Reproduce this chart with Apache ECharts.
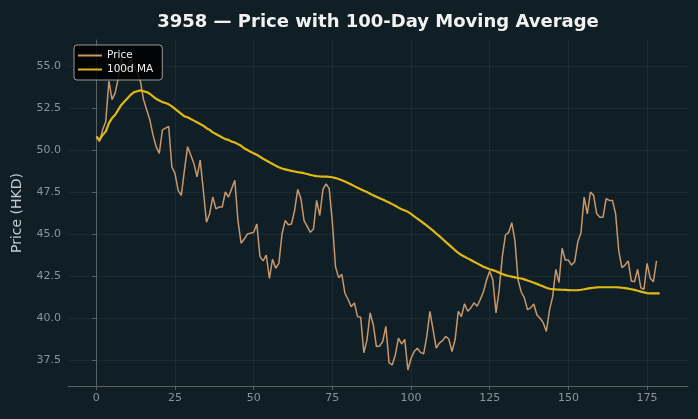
<!DOCTYPE html>
<html>
<head>
<meta charset="utf-8">
<script src="https://cdn.jsdelivr.net/npm/echarts@6/dist/echarts.min.js"></script>
<style>
  html, body { margin: 0; padding: 0; background: #101f26; }
  #chart { width: 698px; height: 419px; }
</style>
</head>
<body>
<div id="chart"></div>
<script>
// daily close (index 0..179)
const price = [
  50.8, 50.5, 51.2, 51.7, 54.1, 53.0, 53.4, 54.3, 55.5, 54.7,
  55.0, 55.4, 55.0, 54.6, 54.1, 53.0, 52.4, 51.8, 50.9, 50.2,
  49.8, 51.2, 51.3, 51.4, 49.0, 48.6, 47.6, 47.3, 48.8, 50.2,
  49.7, 49.2, 48.4, 49.4, 47.6, 45.7, 46.2, 47.2, 46.5, 46.6,
  46.6, 47.5, 47.2, 47.7, 48.2, 45.8, 44.45, 44.7, 45.0, 45.05,
  45.1, 45.6, 43.65, 43.4, 43.75, 42.36, 43.5, 42.96, 43.25, 45.0,
  45.8, 45.55, 45.6, 46.4, 47.65, 47.1, 45.8, 45.45, 45.1, 45.3,
  47.0, 46.1, 47.65, 47.98, 47.7, 45.7, 43.05, 42.4, 42.6, 41.47,
  41.1, 40.67, 40.9, 40.08, 40.04, 37.93, 38.7, 40.3, 39.6, 38.3,
  38.33, 38.6, 39.5, 37.34, 37.2, 37.8, 38.8, 38.45, 38.73, 36.9,
  37.6, 38.0, 38.2, 37.95, 37.86, 38.9, 40.4, 39.3, 38.2, 38.5,
  38.65, 38.9, 38.75, 38.0, 38.7, 40.4, 40.08, 40.85, 40.4, 40.6,
  40.9, 40.7, 41.1, 41.56, 42.26, 42.8, 42.26, 40.3, 41.67, 43.65,
  44.94, 45.08, 45.67, 44.64, 42.26, 41.56, 41.2, 40.5, 40.6, 40.83,
  40.18, 39.98, 39.72, 39.2, 40.48, 41.27, 42.9, 42.1, 44.15, 43.45,
  43.45, 43.15, 43.35, 44.54, 45.08, 47.2, 46.2, 47.5, 47.3, 46.2,
  46.0, 46.0, 47.1, 47.0, 47.0, 46.2, 44.0, 43.0, 43.15, 43.4,
  42.2, 42.16, 42.9, 41.8, 41.7, 43.25, 42.36, 42.16, 43.4
];

// 100d moving average line
const ma100 = [
  50.8, 50.6, 50.9, 51.1, 51.6, 51.9, 52.1, 52.4, 52.7, 52.9,
  53.1, 53.3, 53.45, 53.5, 53.55, 53.5, 53.45, 53.35, 53.2, 53.05,
  52.95, 52.85, 52.8, 52.72, 52.6, 52.45, 52.3, 52.15, 52.0, 51.95,
  51.85, 51.75, 51.65, 51.55, 51.45, 51.3, 51.2, 51.05, 50.95, 50.85,
  50.75, 50.65, 50.6, 50.5, 50.45, 50.35, 50.25, 50.1, 50.0, 49.9,
  49.8, 49.72, 49.6, 49.48, 49.38, 49.27, 49.17, 49.07, 48.98, 48.9,
  48.85, 48.8, 48.76, 48.72, 48.68, 48.65, 48.62, 48.57, 48.52, 48.48,
  48.45, 48.43, 48.42, 48.41, 48.4, 48.38, 48.33, 48.27, 48.2, 48.12,
  48.03, 47.94, 47.85, 47.76, 47.67, 47.58, 47.5, 47.4, 47.3, 47.22,
  47.13, 47.05, 46.96, 46.88, 46.78, 46.68, 46.57, 46.48, 46.4, 46.32,
  46.2, 46.05, 45.92, 45.78, 45.64, 45.5, 45.35, 45.2, 45.03, 44.87,
  44.7, 44.53, 44.37, 44.2, 44.03, 43.88, 43.75, 43.65, 43.55, 43.45,
  43.35, 43.25, 43.15, 43.05, 42.97, 42.9, 42.85, 42.78, 42.7, 42.62,
  42.55, 42.5, 42.46, 42.42, 42.38, 42.35, 42.3, 42.23, 42.17, 42.1,
  42.03, 41.95, 41.88, 41.8, 41.74, 41.72, 41.7, 41.69, 41.68, 41.67,
  41.66, 41.65, 41.65, 41.66, 41.68, 41.71, 41.75, 41.78, 41.8, 41.82,
  41.83, 41.83, 41.83, 41.83, 41.83, 41.83, 41.82, 41.8, 41.78, 41.75,
  41.71, 41.67, 41.62, 41.57, 41.52, 41.48, 41.46, 41.46, 41.46, 41.46
];

const xTicks = [0, 25, 50, 75, 100, 125, 150, 175];
const yTicks = [37.5, 40, 42.5, 45, 47.5, 50, 52.5, 55];

const chart = echarts.init(document.getElementById("chart"));

const gridCol = "rgba(255,255,255,0.05)";
const tickCol = "#8a9499";

chart.setOption({
  backgroundColor: "#101f26",
  animation: false,
  textStyle: { fontFamily: "DejaVu Sans" },
  title: {
    text: "3958 — Price with 100-Day Moving Average",
    left: 373,
    textAlign: "center",
    top: 8,
    textStyle: { color: "#f2f2f2", fontSize: 18, fontWeight: "bold", fontFamily: "DejaVu Sans" },
  },
  legend: {
    orient: "vertical",
    left: 74,
    top: 45,
    padding: [5, 9, 5, 4],
    itemGap: 3,
    itemWidth: 24,
    itemHeight: 2,
    icon: "rect",
    backgroundColor: "rgba(0,0,0,0.85)",
    borderColor: "#9a9a9a",
    borderWidth: 1,
    borderRadius: 3,
    textStyle: { color: "#f0f0f0", fontSize: 10.5, fontFamily: "DejaVu Sans" },
    data: ["Price", "100d MA"],
  },
  grid: { left: 68, right: 10, top: 40, bottom: 33 },
  xAxis: {
    type: "value",
    min: -9,
    max: 188,
    axisLine: { lineStyle: { color: "#5a6266" } },
    axisTick: { customValues: xTicks, length: 4, lineStyle: { color: "#5a6266" } },
    axisLabel: { customValues: xTicks, color: tickCol, fontSize: 11, margin: 7 },
    splitLine: { show: true, lineStyle: { color: gridCol } },
  },
  yAxis: {
    type: "value",
    min: 35.95,
    max: 56.55,
    name: "Price (HKD)",
    nameLocation: "middle",
    nameGap: 44,
    nameTextStyle: { color: "#c4cacd", fontSize: 14 },
    axisLine: { show: true, lineStyle: { color: "#5a6266" } },
    axisTick: { show: true, customValues: yTicks, length: 4, lineStyle: { color: "#5a6266" } },
    axisLabel: {
      customValues: yTicks,
      color: tickCol,
      fontSize: 11,
      margin: 7,
      formatter: (v) => v.toFixed(1),
    },
    splitLine: { show: true, lineStyle: { color: gridCol } },
  },
  series: [
    {
      name: "Price",
      type: "line",
      data: price.map((v, i) => [i, v]),
      showSymbol: false,
      color: "#c8976b",
      lineStyle: { width: 1.5, color: "#c8976b" },
      emphasis: { disabled: true },
      z: 2,
    },
    {
      name: "100d MA",
      type: "line",
      data: ma100.map((v, i) => [i, v]),
      showSymbol: false,
      color: "#e0b814",
      lineStyle: { width: 2.2, color: "#e0b814" },
      emphasis: { disabled: true },
      z: 3,
    },
  ],
});
</script>
</body>
</html>
